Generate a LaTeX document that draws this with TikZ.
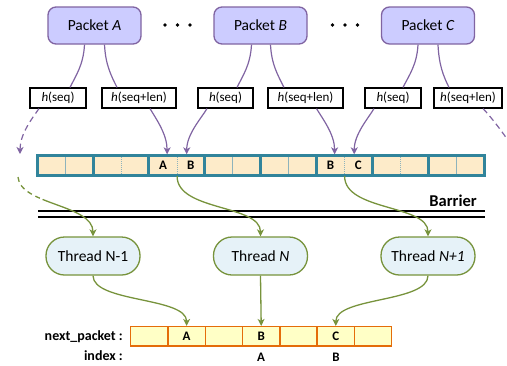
\documentclass[tikz,border=0pt]{standalone}
\usepackage{fontspec}
\setmainfont{Carlito}
\usetikzlibrary{arrows.meta,calc}
\definecolor{pktfill}{HTML}{CCCCFF}
\definecolor{purp}{HTML}{8064A2}
\definecolor{bufedge}{HTML}{31849B}
\definecolor{bufthin}{HTML}{8DB3BC}
\definecolor{buffill}{HTML}{FDEBC9}
\definecolor{grn}{HTML}{77933C}
\definecolor{thfill}{HTML}{E6F2F8}
\definecolor{npfill}{HTML}{FFFFC6}
\definecolor{npedge}{HTML}{E46C0A}
\begin{document}
\begin{tikzpicture}[x=1pt,y=-1pt,
  packet/.style={draw=purp, fill=pktfill, line width=1.3pt, rounded corners=8pt,
    minimum width=93pt, minimum height=37pt, inner sep=0pt, font=\fontsize{15.5}{18}\selectfont},
  hbox/.style={draw=black, fill=white, line width=1.2pt, minimum height=20pt,
    inner sep=0pt, font=\fontsize{13}{15}\selectfont},
  thread/.style={draw=grn, fill=thfill, line width=1.3pt, rounded corners=18.5pt,
    minimum width=94pt, minimum height=38pt, inner sep=0pt, font=\fontsize{15.5}{18}\selectfont},
  cell/.style={fill=buffill, minimum width=27.92pt, minimum height=20pt, inner sep=0pt,
    font=\bfseries\fontsize{13}{15}\selectfont},
  npcell/.style={draw=npedge, fill=npfill, line width=1.5pt, minimum width=37.29pt,
    minimum height=19.3pt, inner sep=0pt, font=\bfseries\fontsize{13}{15}\selectfont},
  lbl/.style={inner sep=0pt, font=\bfseries\fontsize{14}{16}\selectfont},
  pline/.style={draw=purp, line width=1.2pt},
  parrow/.style={pline, -{Stealth[length=7pt,width=7pt,inset=2pt]}},
  pdash/.style={parrow, dash pattern=on 6pt off 4pt},
  garrow/.style={draw=grn, line width=1.3pt, -{Stealth[length=7pt,width=7pt,inset=2pt]}},
  bar/.style={draw=black, line width=2pt}
]
\useasboundingbox (0,0) rectangle (507,365);

% packets
\node[packet] (pA) at (94.5,25.5) {Packet \textit{A}};
\node[packet] (pB) at (260.5,25.5) {Packet \textit{B}};
\node[packet] (pC) at (428,25.5) {Packet \textit{C}};
\foreach \x in {165,177.5,190,332.5,345,357.5} \fill (\x,25) circle (1.8pt);

% hash boxes
\node[hbox, minimum width=56pt] (hA1) at (58,98) {\textit{h}(seq)};
\node[hbox, minimum width=74pt] (hA2) at (139,98) {\textit{h}(seq+len)};
\node[hbox, minimum width=55pt] (hB1) at (225.5,98) {\textit{h}(seq)};
\node[hbox, minimum width=75pt] (hB2) at (305.5,98) {\textit{h}(seq+len)};
\node[hbox, minimum width=56pt] (hC1) at (393,98) {\textit{h}(seq)};
\node[hbox, minimum width=68pt] (hC2) at (468,98) {\textit{h}(seq+len)};

% packet -> hash
\draw[pline] ($(pA.south)+(-10,0)$) .. controls +(-1,20) and +(6,-12) .. ($(hA1.north)+(12,0)$);
\draw[pline] ($(pA.south)+(10,0)$) .. controls +(1,20) and +(-6,-12) .. ($(hA2.north)+(-22,0)$);
\draw[pline] ($(pB.south)+(-9,0)$) .. controls +(-1,20) and +(6,-12) .. ($(hB1.north)+(11.5,0)$);
\draw[pline] ($(pB.south)+(10,0)$) .. controls +(1,20) and +(-6,-12) .. ($(hB2.north)+(-21.5,0)$);
\draw[pline] ($(pC.south)+(-10,0)$) .. controls +(-1,20) and +(6,-12) .. ($(hC1.north)+(10,0)$);
\draw[pline] ($(pC.south)+(10,0)$) .. controls +(1,20) and +(-6,-12) .. ($(hC2.north)+(-19,0)$);

% buffer
\foreach \i/\t in {1/{},2/{},3/{},4/{},5/A,6/B,7/{},8/{},9/{},10/{},11/B,12/C,13/{},14/{},15/{},16/{}}
  \node[cell] (c\i) at ({37.3+27.92*(\i-0.5)},165) {\t};
\foreach \k in {0,3,4,7}
  \draw[bufthin, line width=0.8pt] ({37.3+55.84*\k+27.92},155) -- ++(0,20);
\foreach \k in {1,2,5,6}
  \draw[bufthin, line width=0.8pt, dash pattern=on 1pt off 1pt] ({37.3+55.84*\k+27.92},155) -- ++(0,20);
\foreach \k in {1,...,7}
  \draw[bufedge, line width=3pt] ({37.3+55.84*\k},155) -- ++(0,20);
\draw[bufedge, line width=3pt] (37.3,155) rectangle (484,175);

% hash -> buffer
\coordinate (prevP) at (20,154);
\coordinate (nextP) at (518,160);
\draw[pdash] ($(hA1.south)+(-19,0)$) .. controls +(-7,10) and +(0,-20) .. (prevP);
\draw[parrow] ($(hA2.south)+(11,0)$) .. controls +(6,10) and +(0,-20) .. ($(c5.north east)+(-10,-0.5)$);
\draw[parrow] ($(hB1.south)+(-18.5,0)$) .. controls +(-6,10) and +(0,-20) .. ($(c6.north west)+(10,-0.5)$);
\draw[parrow] ($(hB2.south)+(11,0)$) .. controls +(6,10) and +(0,-20) .. ($(c11.north east)+(-10,-0.5)$);
\draw[parrow] ($(hC1.south)+(-19,0)$) .. controls +(-6,10) and +(0,-20) .. ($(c12.north west)+(10,-0.5)$);
\draw[pdash] ($(hC2.south)+(15,0)$) .. controls +(8,8) and +(-5,-15) .. (nextP);

% barrier
\draw[bar] (38,211) -- (485,211);
\draw[bar] (38,217) -- (485,217);
\node[anchor=east, inner sep=0pt, font=\bfseries\fontsize{16.5}{18}\selectfont] (barrier) at (477,201) {Barrier};

% threads
\node[thread] (tNm) at (93,256) {Thread N-1};
\node[thread] (tN) at (260.5,256) {Thread \textit{N}};
\node[thread] (tNp) at (428,256) {Thread \textit{N+1}};

% buffer -> threads
\coordinate (prevG) at (18,177);
\draw[garrow, dash pattern=on 5pt off 4pt on 5pt off 4pt on 5pt off 4pt on 5pt off 3pt on 300pt] (prevG) .. controls +(2,28) and +(0,-32) .. (tNm.north);
\draw[garrow] ($(c5.south east)+(0,1)$) .. controls +(0,35) and +(0,-32) .. (tN.north);
\draw[garrow] ($(c11.south east)+(0,1)$) .. controls +(0,35) and +(0,-32) .. (tNp.north);

% next_packet array
\foreach \i/\t in {1/{},2/A,3/{},4/B,5/{},6/C,7/{}}
  \node[npcell] (n\i) at ({130.7+37.29*(\i-0.5)},336.3) {\t};
\node[lbl, anchor=east] (npl) at (123,337) {next\_packet :};
\node[lbl, anchor=east] (idxl) at (123,356) {index :};
\node[lbl, font=\bfseries\fontsize{13}{15}\selectfont] (iA) at (261,357) {A};
\node[lbl, font=\bfseries\fontsize{13}{15}\selectfont] (iB) at (336,357) {B};

% threads -> next_packet
\draw[garrow] (tNm.south) .. controls +(0,27) and +(0,-29) .. (n2.north);
\draw[garrow] (tN.south) -- (n4.north);
\draw[garrow] (tNp.south) .. controls +(0,27) and +(0,-29) .. (n6.north);
\end{tikzpicture}
\end{document}
